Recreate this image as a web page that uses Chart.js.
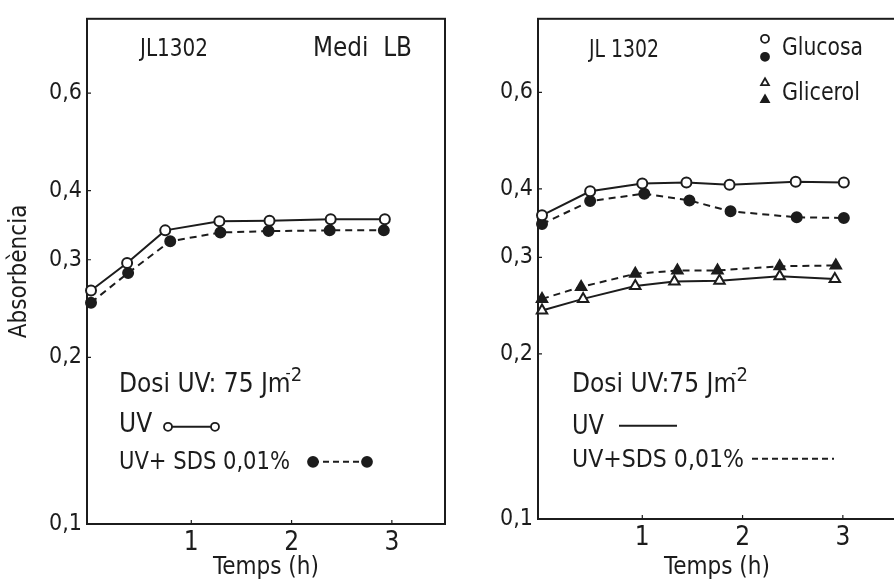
<!DOCTYPE html>
<html>
<head>
<meta charset="utf-8">
<script src="https://cdn.jsdelivr.net/npm/chart.js@4.4.1/dist/chart.umd.min.js"></script>
<style>
  html, body { margin: 0; padding: 0; background: #fff; overflow: hidden; }
  body { width: 894px; height: 579px; position: relative; }
  .panel { position: absolute; top: 0; }
  #left  { left: 0; }
  #right { left: 452px; }
</style>
</head>
<body>
<div class="panel" id="left"><canvas id="cLeft" width="452" height="579"></canvas></div>
<div class="panel" id="right"><canvas id="cRight" width="452" height="579"></canvas></div>
<script>
// ── DATA ─────────────────────────────────────────────────────────────────────
const xTicks = [1, 2, 3];
const yTicks = [0.1, 0.2, 0.3, 0.4, 0.6];

// left panel: medi LB
const lbTimes    = [0, 0.36, 0.74, 1.28, 1.78, 2.39, 2.93];
const lbUV       = [0.264, 0.296, 0.339, 0.352, 0.353, 0.355, 0.355];
const lbSdsTimes = [0, 0.37, 0.79, 1.29, 1.77, 2.38, 2.92];
const lbUVSDS    = [0.251, 0.284, 0.324, 0.336, 0.338, 0.339, 0.339];

// right panel: glucosa / glicerol
const glucTimes    = [0, 0.48, 1.0, 1.44, 1.87, 2.53, 3.01];
const glucUV       = [0.358, 0.396, 0.409, 0.411, 0.407, 0.412, 0.411];
const glucSdsTimes = [0, 0.48, 1.02, 1.47, 1.88, 2.54, 3.01];
const glucUVSDS    = [0.345, 0.380, 0.392, 0.381, 0.364, 0.355, 0.354];
const glicTimes    = [0, 0.41, 0.93, 1.32, 1.77, 2.37, 2.92];
const glicUV       = [0.240, 0.252, 0.266, 0.271, 0.272, 0.277, 0.274];
const glicSdsTimes = [0, 0.39, 0.93, 1.35, 1.75, 2.37, 2.93];
const glicUVSDS    = [0.252, 0.265, 0.280, 0.284, 0.284, 0.289, 0.290];

// ── STYLE ────────────────────────────────────────────────────────────────────
const FONT = "'Liberation Sans Narrow', 'DejaVu Sans Condensed', Roboto, sans-serif";
const INK  = '#1c1c1c';
const DASH = [7, 5];

function pts(times, vals) { return times.map((t, i) => ({ x: t, y: vals[i] })); }

function series(times, vals, style, filled, dashed) {
  return {
    data: pts(times, vals),
    borderColor: INK, borderWidth: 2, borderDash: dashed ? DASH : [],
    pointStyle: style, pointRadius: style === 'triangle' ? 6 : 5, pointBorderWidth: 2,
    pointBackgroundColor: filled ? INK : '#fff', pointBorderColor: INK,
    tension: 0, clip: false,
  };
}

function scalesFor(axisWidth, axisHeight, withTitle) {
  return {
    x: {
      type: 'linear', min: -0.04, max: 3.53,
      afterBuildTicks: s => { s.ticks = xTicks.map(v => ({ value: v })); },
      afterFit: s => { s.height = axisHeight; },
      grid: { display: false, drawTicks: false },
      border: { display: false },
      ticks: { color: INK, padding: 4, font: { family: FONT, size: 26 }, callback: v => String(v) },
      title: { display: true, text: 'Temps (h)', color: INK, padding: 0,
               font: { family: FONT, size: 24, lineHeight: 0.9 } },
    },
    y: {
      type: 'logarithmic', min: 0.1, max: 0.817,
      afterBuildTicks: s => { s.ticks = yTicks.map(v => ({ value: v })); },
      afterFit: s => { s.width = axisWidth; },
      grid: { display: false, drawTicks: false },
      border: { display: false },
      ticks: { color: INK, padding: 5, font: { family: FONT, size: 23 },
               callback: v => yTicks.includes(v) ? String(v).replace('.', ',') : '' },
      title: { display: withTitle, text: 'Absorbència', color: INK, padding: { top: 8 },
               font: { family: FONT, size: 24, lineHeight: 1 } },
    },
  };
}

// ── DRAW HELPERS ─────────────────────────────────────────────────────────────
function text(ctx, s, x, y, size, maxW) {
  ctx.font = `${size}px ${FONT}`;
  ctx.fillStyle = INK; ctx.textAlign = 'left'; ctx.textBaseline = 'alphabetic';
  const w = Math.min(ctx.measureText(s).width, maxW || Infinity);
  ctx.fillText(s, x, y, w);
  return x + w;
}
function dose(ctx, s, x, y, maxW) {
  const end = text(ctx, s, x, y, 26, maxW);
  const e2 = text(ctx, '-', end - 5, y - 14, 16);
  text(ctx, '2', e2, y - 11, 20);
}
function mark(ctx, style, x, y, r, filled) {
  ctx.save();
  ctx.strokeStyle = INK; ctx.fillStyle = filled ? INK : '#fff'; ctx.lineWidth = 1.8;
  Chart.helpers.drawPoint(ctx, { pointStyle: style, radius: r, borderWidth: 1.8 }, x, y);
  ctx.restore();
}
function seg(ctx, x1, x2, y, dashed) {
  ctx.save();
  ctx.strokeStyle = INK; ctx.lineWidth = 2; ctx.setLineDash(dashed ? [6, 4] : []);
  ctx.beginPath(); ctx.moveTo(x1, y); ctx.lineTo(x2, y); ctx.stroke();
  ctx.restore();
}

// frame + small inward ticks, under the data
const framePlugin = {
  id: 'frame',
  beforeDatasetsDraw(chart) {
    const { ctx, chartArea: a, scales: { x, y } } = chart;
    ctx.save();
    ctx.strokeStyle = INK; ctx.lineWidth = 2;
    ctx.strokeRect(a.left, a.top, a.right - a.left, a.bottom - a.top);
    ctx.lineWidth = 1.2;
    ctx.beginPath();
    xTicks.forEach(v => { const px = x.getPixelForValue(v); ctx.moveTo(px, a.bottom); ctx.lineTo(px, a.bottom - 4); });
    yTicks.forEach(v => { const py = y.getPixelForValue(v); ctx.moveTo(a.left, py); ctx.lineTo(a.left + 4, py); });
    ctx.stroke();
    ctx.restore();
  }
};

const leftNotes = {
  id: 'leftNotes',
  afterDraw(chart) {
    const { ctx, chartArea: a } = chart;
    const L = a.left, T = a.top;
    ctx.save();
    text(ctx, 'JL1302', L + 53, T + 37, 24, 68);
    text(ctx, 'Medi  LB', L + 226, T + 37, 26, 99);
    dose(ctx, 'Dosi UV: 75 Jm', L + 32, T + 373, 179);
    text(ctx, 'UV', L + 32, T + 413, 26, 34);
    seg(ctx, L + 81, L + 128, T + 408, false);
    mark(ctx, 'circle', L + 81, T + 408, 4, false);
    mark(ctx, 'circle', L + 128, T + 408, 4, false);
    text(ctx, 'UV+ SDS 0,01%', L + 32, T + 450, 25, 171);
    seg(ctx, L + 226, L + 280, T + 443, true);
    mark(ctx, 'circle', L + 226, T + 443, 5, true);
    mark(ctx, 'circle', L + 280, T + 443, 5, true);
    ctx.restore();
  }
};

const rightNotes = {
  id: 'rightNotes',
  afterDraw(chart) {
    const { ctx, chartArea: a } = chart;
    const L = a.left, T = a.top;
    ctx.save();
    text(ctx, 'JL 1302', L + 51, T + 38, 24, 70);
    mark(ctx, 'circle', L + 227, T + 20, 4, false);
    mark(ctx, 'circle', L + 227, T + 38, 4, true);
    text(ctx, 'Glucosa', L + 244, T + 36, 24, 81);
    mark(ctx, 'triangle', L + 227, T + 64, 4.5, false);
    mark(ctx, 'triangle', L + 227, T + 81, 4.5, true);
    text(ctx, 'Glicerol', L + 244, T + 81, 24, 78);
    dose(ctx, 'Dosi UV:75 Jm', L + 34, T + 373, 172);
    text(ctx, 'UV', L + 34, T + 415, 26, 32);
    seg(ctx, L + 81, L + 139, T + 407, false);
    text(ctx, 'UV+SDS 0,01%', L + 34, T + 448, 25, 172);
    seg(ctx, L + 214, L + 296, T + 440, true);
    ctx.restore();
  }
};

const common = {
  responsive: false, animation: false, devicePixelRatio: 1,
  plugins: { legend: { display: false }, tooltip: { enabled: false } },
};

// ── CHARTS ───────────────────────────────────────────────────────────────────
new Chart(document.getElementById('cLeft'), {
  type: 'line',
  data: { datasets: [
    series(lbTimes, lbUV, 'circle', false, false),
    series(lbSdsTimes, lbUVSDS, 'circle', true, true),
  ]},
  options: { ...common, layout: { padding: { top: 15, right: 3, left: 0, bottom: 0 } },
             scales: scalesFor(87, 55, true) },
  plugins: [framePlugin, leftNotes],
});

new Chart(document.getElementById('cRight'), {
  type: 'line',
  data: { datasets: [
    series(glucTimes, glucUV, 'circle', false, false),
    series(glucSdsTimes, glucUVSDS, 'circle', true, true),
    series(glicTimes, glicUV, 'triangle', false, false),
    series(glicSdsTimes, glicUVSDS, 'triangle', true, true),
  ]},
  options: { ...common, layout: { padding: { top: 12, right: 4, left: 0, bottom: 0 } },
             scales: scalesFor(86, 60, false) },
  plugins: [framePlugin, rightNotes],
});
</script>
</body>
</html>
